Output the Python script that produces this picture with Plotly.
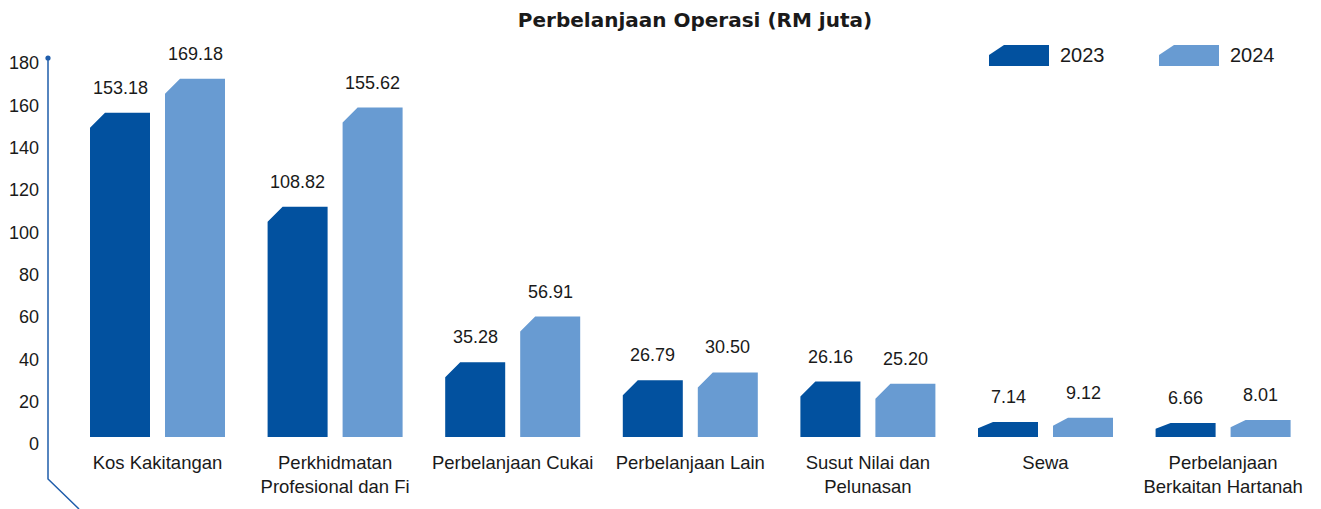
import plotly.graph_objects as go

# ---------------- data ----------------
categories = ["Kos Kakitangan", "Perkhidmatan<br>Profesional dan Fi", "Perbelanjaan Cukai",
              "Perbelanjaan Lain", "Susut Nilai dan<br>Pelunasan", "Sewa",
              "Perbelanjaan<br>Berkaitan Hartanah"]
series_names = ["2023", "2024"]
values_2023 = [153.18, 108.82, 35.28, 26.79, 26.16, 7.14, 6.66]
values_2024 = [169.18, 155.62, 56.91, 30.50, 25.20, 9.12, 8.01]
y_ticks = [0, 20, 40, 60, 80, 100, 120, 140, 160, 180]

# ---------------- styling / geometry ----------------
W, H = 1321, 509
ML, MR, MT, MB = 48, 10, 40, 60
PW, PH = W - ML - MR, H - MT - MB
DARK, LIGHT = "#02519F", "#689BD2"
TXT = "#1a1a1a"
AXC = "#1f5dab"
FONT = "Liberation Sans, Arial, sans-serif"

GROUP_PX = 177.6          # px between category centres
FIRST_PX = 157.5 - ML     # first category centre, plot-relative px
PX_PER_UNIT = 2.117       # px per RM juta
BAR_W_PX, OFF_PX, CH_PX = 60, 37.5, 15
BASE_PX = 437             # page y of the bars' baseline
LABEL_BASE_PX = 444       # page y of the "0" tick label

x0 = -FIRST_PX / GROUP_PX
x1 = x0 + PW / GROUP_PX
ux = 1.0 / GROUP_PX       # x units per px
uy = 1.0 / PX_PER_UNIT    # y units per px
bottom_px = H - MB
y_lo = -(bottom_px - BASE_PX) * uy
y2_lo = -(bottom_px - LABEL_BASE_PX) * uy


def bar_polys(vals, offset_px):
    xs, ys = [], []
    for i, v in enumerate(vals):
        c = i + offset_px * ux
        xl, xr = c - BAR_W_PX / 2 * ux, c + BAR_W_PX / 2 * ux
        dy = min(CH_PX, 0.42 * v * PX_PER_UNIT) * uy
        dx = CH_PX * ux
        xs += [xl, xl, xl + dx, xr, xr, xl, None]
        ys += [0, v - dy, v, v, 0, 0, None]
    return xs, ys


fig = go.Figure()
for vals, col, off, name in [(values_2023, DARK, -OFF_PX, series_names[0]),
                             (values_2024, LIGHT, OFF_PX, series_names[1])]:
    xs, ys = bar_polys(vals, off)
    fig.add_trace(go.Scatter(x=xs, y=ys, mode="lines", fill="toself", fillcolor=col,
                             line=dict(width=0, color=col), name=name,
                             showlegend=False, hoverinfo="skip"))

annotations = []
for vals, off in [(values_2023, -OFF_PX), (values_2024, OFF_PX)]:
    for i, v in enumerate(vals):
        annotations.append(dict(x=i + off * ux, y=v, xref="x", yref="y", text=f"{v:.2f}",
                                showarrow=False, yanchor="middle", xanchor="center",
                                yshift=25, font=dict(size=18, color=TXT, family=FONT)))


def px2paper(px, py):
    return (px - ML) / PW, (H - MB - py) / PH


# custom legend (chamfered swatches)
shapes = []
for name, col, lx in [(series_names[0], DARK, 989), (series_names[1], LIGHT, 1159)]:
    pts = [(lx, 66), (lx, 55), (lx + 15, 45), (lx + 60, 45), (lx + 60, 66)]
    pp = [px2paper(*p) for p in pts]
    path = "M " + " L ".join(f"{a:.5f},{b:.5f}" for a, b in pp) + " Z"
    shapes.append(dict(type="path", path=path, xref="paper", yref="paper",
                       fillcolor=col, line=dict(width=0)))
    tx, ty = px2paper(lx + 69, 55)
    annotations.append(dict(x=tx, y=ty, xref="paper", yref="paper", text=name,
                            showarrow=False, xanchor="left", yanchor="middle",
                            font=dict(size=20, color=TXT, family=FONT)))

# decorative axis line with dot and tail
a = px2paper(48, 58)
b = px2paper(48, 479)
c = px2paper(79, 509)
shapes.append(dict(type="path", xref="paper", yref="paper",
                   path=f"M {a[0]},{a[1]} L {b[0]},{b[1]} L {c[0]},{c[1]}",
                   line=dict(color=AXC, width=1.5)))
r = 2.6
d0 = px2paper(48 - r, 58 + r)
d1 = px2paper(48 + r, 58 - r)
shapes.append(dict(type="circle", xref="paper", yref="paper", x0=d0[0], y0=d0[1],
                   x1=d1[0], y1=d1[1], fillcolor=AXC, line=dict(width=0)))

fig.update_layout(
    width=W, height=H,
    margin=dict(l=ML, r=MR, t=MT, b=MB),
    paper_bgcolor="white", plot_bgcolor="white",
    title=dict(text="<b>Perbelanjaan Operasi (RM juta)</b>", x=695 / W, xanchor="center",
               xref="container", y=1 - 20 / H, yanchor="middle",
               font=dict(size=20, color=TXT, family="DejaVu Sans, sans-serif")),
    xaxis=dict(range=[x0, x1], tickvals=list(range(len(categories))), ticktext=categories,
               showgrid=False, zeroline=False, showline=False, ticks="",
               tickfont=dict(size=18.5, color=TXT, family=FONT), ticklabelstandoff=0,
               fixedrange=True),
    yaxis=dict(range=[y_lo, y_lo + PH * uy], visible=False, fixedrange=True),
    yaxis2=dict(range=[y2_lo, y2_lo + PH * uy], overlaying="y",
                side="left", tickvals=y_ticks, ticktext=[str(t) for t in y_ticks],
                showgrid=False, zeroline=False, showline=False, ticks="",
                tickfont=dict(size=18, color=TXT, family=FONT), ticklabelstandoff=8,
                fixedrange=True),
    annotations=annotations,
    shapes=shapes,
    showlegend=False,
)
# invisible trace to activate the label axis
fig.add_trace(go.Scatter(x=[None], y=[None], yaxis="y2", showlegend=False, hoverinfo="skip"))

fig.write_html("out.html", config={"displayModeBar": False},
               post_script="document.body.style.margin='0px';")
